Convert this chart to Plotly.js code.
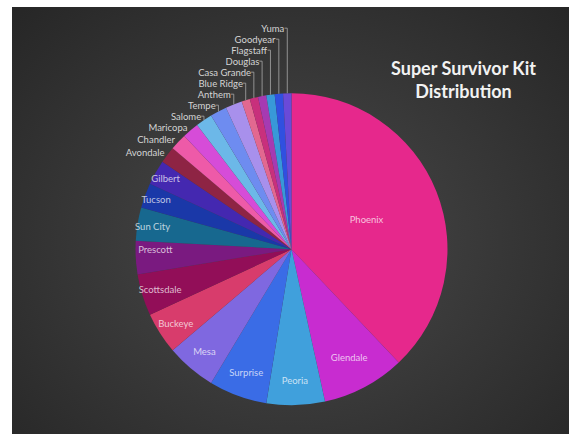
<!DOCTYPE html>
<html>
<head>
<meta charset="utf-8">
<script src="https://cdn.plot.ly/plotly-3.0.1.min.js"></script>
<style>
  html, body { margin: 0; padding: 0; background: #ffffff; width: 569px; height: 434px; overflow: hidden; }
  #chart {
    position: absolute; left: 12px; top: 7px; width: 557px; height: 427px;
    background: radial-gradient(ellipse at 50% 55%, #4b4b4b 0%, #3a3a3a 45%, #262626 100%);
  }
  #chart path.textline { stroke: #a8a8a8 !important; stroke-width: 0.8px !important; }
</style>
</head>
<body>
<div id="chart"></div>
<script>
const cities = ["Phoenix","Glendale","Peoria","Surprise","Mesa","Buckeye","Scottsdale","Prescott","Sun City","Tucson","Gilbert","Avondale","Chandler","Maricopa","Salome","Tempe","Anthem","Blue Ridge","Casa Grande","Douglas","Flagstaff","Goodyear","Yuma"];
const kits = [44,10,7,7,6,5,5,4,4,3,3,2,2,2,2,2,2,1,1,1,1,1,1];
const sliceColors = ["#E6288C","#C82CD0","#40A0DC","#3A6CE6","#7F68E0","#D83C6C","#920E58","#7A1A80","#17688F","#1A38A8","#4428B0","#8E2444","#EE5AA8","#D64CD8","#6CB8E8","#6E8CF0","#A890EC","#E26890","#C8307C","#A63AB2","#3898D8","#3050E0","#6A4AD8"];
const labelPlacement = ["inside","inside","inside","inside","inside","inside","inside","inside","inside","inside","inside","outside","outside","outside","outside","outside","outside","outside","outside","outside","outside","outside","outside"];

const trace = {
  type: "pie",
  labels: cities,
  values: kits,
  sort: false,
  direction: "clockwise",
  rotation: 0,
  textinfo: "label",
  textposition: labelPlacement,
  insidetextorientation: "horizontal",
  marker: { colors: sliceColors, line: { width: 0 } },
  insidetextfont: { family: "Lato, 'Open Sans', sans-serif", size: 9.5, color: "rgba(255,255,255,0.72)" },
  outsidetextfont: { family: "Lato, 'Open Sans', sans-serif", size: 9.5, color: "#d4d4d4" },
  domain: { x: [0.2217, 0.7819], y: [0.0674, 0.798] },
  hoverinfo: "label+value+percent",
  showlegend: false
};

const layout = {
  width: 557,
  height: 427,
  margin: { l: 0, r: 0, t: 0, b: 0 },
  paper_bgcolor: "rgba(0,0,0,0)",
  plot_bgcolor: "rgba(0,0,0,0)",
  showlegend: false,
  uniformtext: { minsize: 9.5, mode: "show" },
  title: {
    text: "Super Survivor Kit<br>Distribution",
    x: 0.8106, xanchor: "center",
    y: 1 - 68/427, yanchor: "top",
    font: { family: "Lato, 'Open Sans', sans-serif", size: 18, color: "#f2f2f2", weight: "bold" }
  }
};

Plotly.newPlot("chart", [trace], layout, { displayModeBar: false, staticPlot: true });
</script>
</body>
</html>
